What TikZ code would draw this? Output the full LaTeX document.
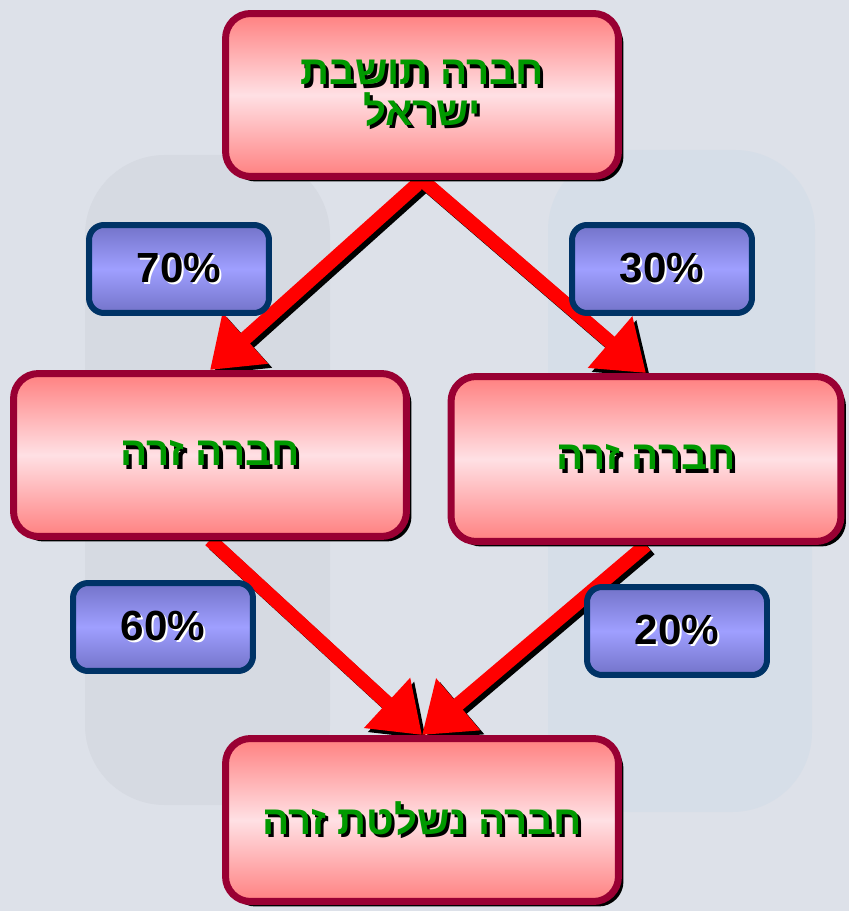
\documentclass[tikz,border=0pt]{standalone}
\usepackage{fontspec}
\setmainfont{Liberation Sans}
\newfontfamily\hebfont[Script=Hebrew]{Liberation Sans}
\TeXXeTstate=1
\usetikzlibrary{arrows.meta,shadows}

\definecolor{bgcol}{HTML}{DDE1E9}
\definecolor{wmgray}{HTML}{D6DAE2}
\definecolor{wmblue}{HTML}{D6DEE8}
\definecolor{boxrim}{HTML}{990033}
\definecolor{pinkedge}{HTML}{FF8080}
\definecolor{pinkmid}{HTML}{FFE0E4}
\definecolor{hebgreen}{HTML}{009900}
\definecolor{pctrim}{HTML}{003366}
\definecolor{bluedge}{HTML}{7373C9}
\definecolor{bluemid}{HTML}{9F9FFF}

\pgfdeclarelayer{back}
\pgfdeclarelayer{arrowlayer}
\pgfsetlayers{back,arrowlayer,main}

% green Hebrew text with a black shadow
\newcommand{\hebline}[1]{\leavevmode\rlap{\kern1.8pt\raisebox{-1.8pt}{\textcolor{black}{\beginR#1\endR}}}\textcolor{hebgreen}{\beginR#1\endR}}
% black figures with a white shadow
\newcommand{\pctxt}[1]{\leavevmode\rlap{\kern1.2pt\raisebox{-1.2pt}{\textcolor{white}{#1}}}#1}

\begin{document}
\begin{tikzpicture}[x=0.02cm,y=-0.02cm,
  company/.style = {rounded corners=0.5cm, draw=boxrim, line width=0.14cm,
    top color=pinkedge, bottom color=pinkedge, middle color=pinkmid,
    minimum width=7.86cm, minimum height=3.26cm, align=center,
    drop shadow={shadow xshift=0.1cm, shadow yshift=-0.1cm, fill=black, opacity=1},
    font=\hebfont\bfseries\fontsize{23}{23}\selectfont},
  share/.style = {rounded corners=0.3cm, draw=pctrim, line width=0.12cm,
    top color=bluedge, bottom color=bluedge, middle color=bluemid,
    minimum width=3.6cm, minimum height=1.76cm,
    font=\bfseries\fontsize{24}{24}\selectfont},
  flow/.style = {draw=red, line width=0.28cm, -{Triangle[length=0.95cm,width=1.3cm]}},
  flowshadow/.style = {flow, draw=black, transform canvas={xshift=0.08cm,yshift=-0.08cm}}]

  \useasboundingbox (0,0) rectangle (849,911);
  \begin{pgfonlayer}{back}
    \fill[bgcol] (0,0) rectangle (849,911);
    % faint watermark
    \fill[wmgray, rounded corners=1.6cm] (85,155) rectangle (330,805);
    \fill[wmblue, rounded corners=1.6cm] (548,150) rectangle (815,480);
    \fill[wmblue, rounded corners=1.6cm] (548,470) rectangle (812,812);
  \end{pgfonlayer}

  % companies
  \node[company] (resident) at (422,95) {\hebline{חברה תושבת}\\\hebline{ישראל}};
  \node[company] (foreignL) at (210,455) {\hebline{חברה זרה}};
  \node[company, minimum width=7.8cm, minimum height=3.3cm] (foreignR) at (646,459) {\hebline{חברה זרה}};
  \node[company] (cfc) at (422,820) {\hebline{חברה נשלטת זרה}};

  % holdings
  \begin{pgfonlayer}{arrowlayer}
    \foreach \from/\to in {resident/foreignL, resident/foreignR, foreignL/cfc, foreignR/cfc} {
      \draw[flowshadow] (\from.south) -- (\to.north);
      \draw[flow] (\from.south) -- (\to.north);
    }
  \end{pgfonlayer}

  \node[share] (p70) at (179,269) {\pctxt{70\%}};
  \node[share] (p30) at (662,269) {\pctxt{30\%}};
  \node[share] (p60) at (163,627) {\pctxt{60\%}};
  \node[share] (p20) at (677,631) {\pctxt{20\%}};
\end{tikzpicture}
\end{document}
